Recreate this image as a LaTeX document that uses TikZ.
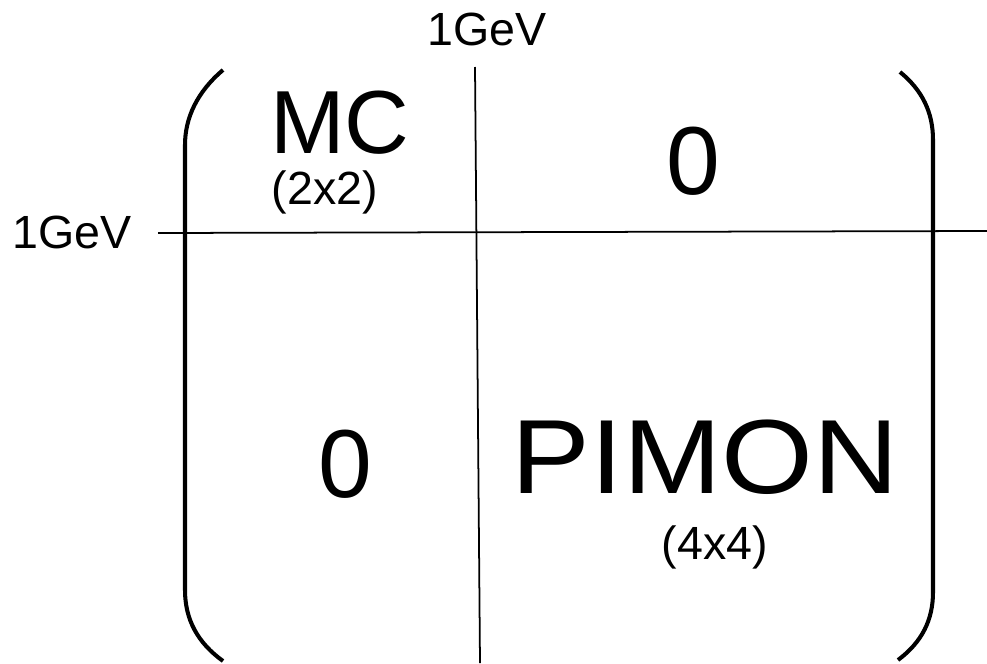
\documentclass[tikz,border=0pt]{standalone}
\usepackage{fontspec}
\setmainfont{Liberation Sans}
\begin{document}
\begin{tikzpicture}[x=0.02cm,y=-0.02cm,
  small/.style={inner sep=0pt,font=\fontsize{26.5}{30}\selectfont},
  big/.style={inner sep=0pt,font=\fontsize{51}{60}\selectfont},
  zero/.style={inner sep=0pt,font=\fontsize{55}{64}\selectfont},
  huge/.style={inner sep=0pt,font=\fontsize{60}{70}\selectfont,xscale=1.12},
  paren/.style={line width=2.3pt},
  axis/.style={line width=1pt}]
\useasboundingbox (0,0) rectangle (987,663);
% axes
\coordinate (hl) at (158,233);
\coordinate (hr) at (987,231);
\coordinate (vt) at (475,67);
\coordinate (vb) at (480,663);
\draw[axis] (hl) -- (hr);
\draw[axis] (vt) -- (vb);
% parentheses
\draw[paren] (223,70) .. controls (197,92) and (185,118) .. (185,145) -- (185,590) .. controls (185,620) and (198,643) .. (223,661);
\draw[paren] (900,72) .. controls (922,90) and (933,112) .. (933,140) -- (933,592) .. controls (933,620) and (922,642) .. (898,660);
% labels
\node[small] (gevtop) at (487,29) {1GeV};
\node[small] (gevleft) at (72,232) {1GeV};
\node[big] (mc) at (340,123) {MC};
\node[small] (mcsize) at (325,192) {(2x2)};
\node[zero] (zerotr) at (693,161) {0};
\node[zero] (zerobl) at (345,464) {0};
\node[huge] (pimon) at (705,457) {PIMON};
\node[small] (pimonsize) at (715,547) {(4x4)};
\end{tikzpicture}
\end{document}
